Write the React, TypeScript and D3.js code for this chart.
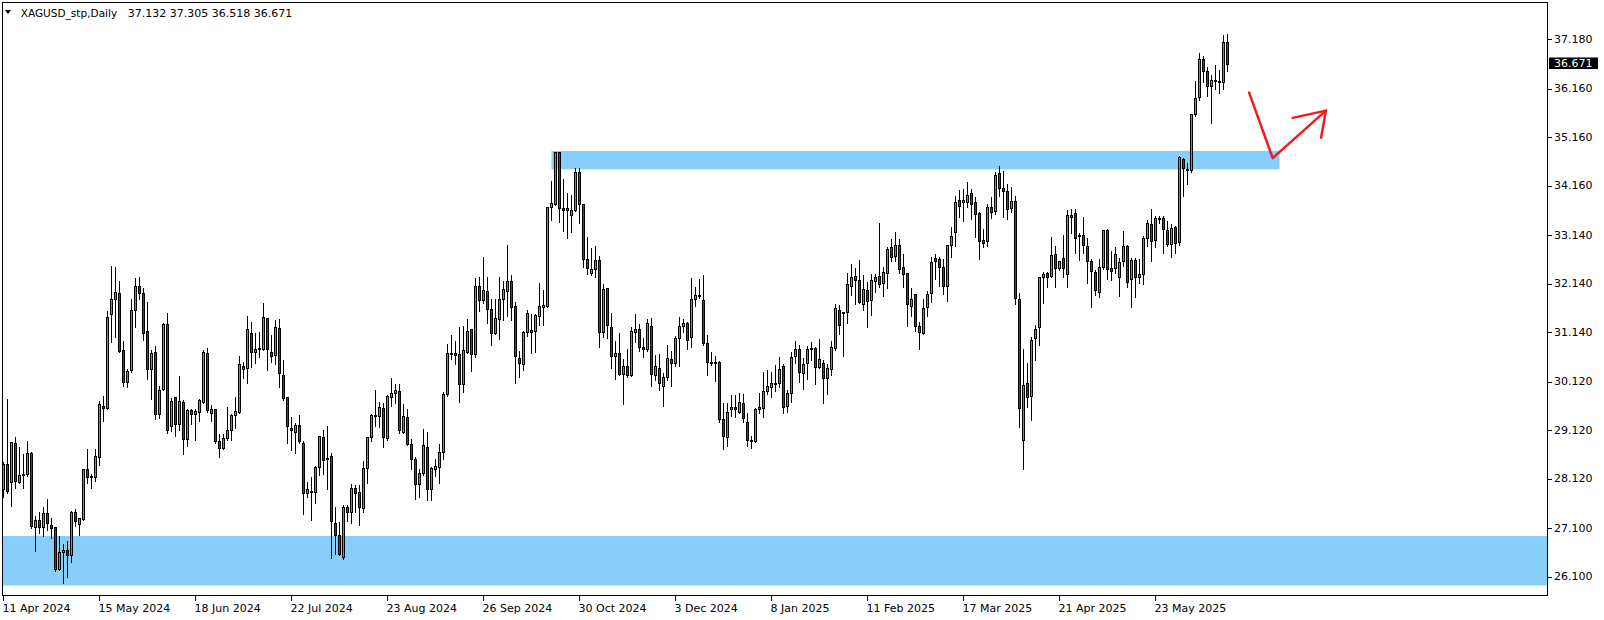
import * as d3 from "d3"

// XAGUSD daily bars, 11 Apr 2024 .. 18 Jun 2025
const symbolTitle = "XAGUSD_stp,Daily"
const headerValues = ["37.132", "37.305", "36.518", "36.671"]
const lastPrice = 36.671

const opens = [
  27.90, 28.42, 28.06, 28.85, 28.06, 28.21, 28.21, 28.65, 27.13, 27.27, 27.13, 27.41, 27.17, 27.12, 26.27, 26.62, 26.65, 26.54, 27.43, 27.18,
  27.30, 28.32, 28.16, 28.15, 28.57, 29.62, 29.58, 31.51, 31.82, 31.96, 30.78, 30.11, 30.36, 31.59, 32.09, 31.94, 31.17, 30.38, 30.73, 29.46,
  29.98, 31.31, 29.20, 29.81, 29.26, 29.70, 28.94, 29.54, 29.45, 29.50, 29.70, 30.71, 29.47, 29.55, 28.90, 28.75, 28.96, 29.13, 29.43, 29.50,
  30.44, 30.40, 31.12, 30.74, 30.79, 30.79, 31.43, 30.73, 30.67, 31.22, 30.26, 29.81, 29.16, 29.09, 29.22, 28.85, 27.82, 27.84, 27.84, 28.36,
  28.98, 28.55, 28.60, 27.20, 26.96, 26.50, 27.53, 27.43, 27.93, 27.84, 27.51, 28.34, 28.99, 29.42, 29.42, 29.57, 28.96, 29.80, 29.88, 29.94,
  29.08, 29.39, 28.83, 28.53, 28.02, 28.25, 28.78, 27.90, 28.32, 28.37, 28.67, 29.86, 30.69, 30.71, 30.69, 30.08, 30.73, 31.20, 30.69, 32.09,
  31.81, 32.00, 31.63, 31.13, 31.41, 31.82, 32.00, 32.19, 31.68, 30.62, 30.48, 31.14, 31.15, 31.17, 31.48, 31.67, 31.68, 33.72, 33.78, 34.85,
  33.70, 33.67, 33.55, 33.67, 34.44, 33.78, 32.66, 32.37, 32.44, 32.64, 31.15, 32.05, 31.24, 30.66, 30.71, 30.29, 30.44, 30.26, 31.15, 31.20,
  30.83, 30.79, 31.28, 30.27, 30.41, 30.04, 30.21, 30.60, 30.50, 31.02, 31.27, 31.33, 31.04, 31.82, 31.90, 31.80, 30.91, 30.53, 30.51, 30.52,
  29.35, 28.99, 29.55, 29.61, 29.50, 29.68, 29.30, 28.93, 28.89, 29.55, 29.57, 29.92, 30.02, 30.08, 30.09, 30.45, 29.62, 29.88, 30.66, 30.79,
  30.31, 30.50, 30.80, 30.82, 30.42, 30.50, 30.19, 30.39, 30.82, 31.61, 31.53, 31.55, 32.10, 32.30, 32.22, 31.72, 32.01, 31.81, 32.20, 32.31,
  32.16, 32.37, 32.89, 32.71, 32.93, 32.48, 32.36, 31.68, 31.92, 31.26, 31.13, 31.67, 31.96, 32.67, 32.65, 32.49, 32.10, 32.95, 33.21, 33.87,
  33.83, 33.83, 34.02, 33.82, 33.59, 33.04, 33.03, 33.73, 33.64, 34.42, 34.12, 34.06, 33.70, 33.85, 31.82, 28.91, 30.09, 29.83, 31.02, 31.24,
  32.29, 32.36, 32.31, 32.75, 32.46, 32.67, 32.34, 33.56, 33.59, 33.15, 33.15, 32.92, 32.61, 32.38, 31.98, 32.48, 33.25, 32.46, 32.46, 32.27,
  32.60, 32.92, 32.23, 32.64, 32.29, 32.34, 33.08, 33.37, 33.04, 33.47, 33.49, 33.25, 32.96, 33.32, 33.01, 34.71, 34.49, 34.49, 35.64, 36.00,
  36.77, 36.53, 36.22, 36.33, 36.31, 36.31, 37.132,
]

const highs = [
  28.49, 29.78, 28.89, 29.00, 28.80, 28.65, 28.93, 28.69, 27.37, 27.46, 27.56, 27.72, 27.34, 27.13, 26.96, 26.79, 26.86, 27.48, 27.51, 27.34,
  28.34, 28.75, 28.25, 28.75, 29.74, 29.84, 31.60, 32.53, 32.51, 32.22, 30.98, 30.40, 31.84, 32.29, 32.30, 32.08, 31.79, 30.79, 30.88, 30.05,
  31.36, 31.55, 29.81, 29.83, 30.26, 29.76, 29.57, 29.57, 29.57, 29.78, 30.80, 30.84, 29.66, 29.57, 29.07, 29.07, 29.62, 29.47, 29.83, 30.67,
  30.54, 31.50, 31.38, 31.15, 31.17, 31.77, 31.45, 31.10, 31.41, 31.44, 30.58, 29.81, 29.42, 29.30, 29.46, 28.92, 28.08, 28.18, 28.40, 29.02,
  29.14, 29.23, 28.68, 27.56, 27.26, 27.60, 27.61, 28.03, 28.01, 28.01, 28.51, 29.00, 29.48, 29.97, 29.73, 29.71, 29.87, 30.21, 30.10, 30.10,
  29.69, 29.58, 28.97, 28.58, 28.34, 29.16, 29.11, 28.38, 28.54, 28.85, 29.92, 30.91, 31.10, 30.98, 31.26, 31.29, 31.44, 31.22, 32.27, 32.30,
  32.71, 32.30, 31.84, 31.84, 32.30, 32.22, 32.96, 32.34, 31.78, 30.78, 31.19, 31.63, 31.54, 31.54, 32.18, 32.03, 33.74, 34.28, 34.88, 34.86,
  34.33, 34.04, 34.00, 34.55, 34.55, 33.80, 33.13, 32.89, 32.94, 32.73, 32.15, 32.08, 31.55, 30.98, 31.15, 30.62, 30.82, 31.26, 31.54, 31.34,
  31.05, 31.43, 31.46, 30.69, 30.71, 30.33, 30.90, 30.78, 31.09, 31.48, 31.43, 31.38, 32.29, 32.09, 32.25, 32.34, 31.10, 30.76, 30.67, 30.57,
  29.71, 29.71, 29.87, 29.87, 29.90, 29.88, 29.50, 29.02, 29.61, 29.90, 30.34, 30.38, 30.34, 30.48, 30.65, 30.50, 29.97, 30.76, 30.98, 30.89,
  30.64, 30.88, 30.96, 30.86, 31.03, 30.60, 30.50, 30.98, 31.75, 31.72, 31.58, 32.39, 32.56, 32.49, 32.65, 32.34, 32.20, 32.37, 32.36, 33.42,
  32.51, 32.91, 33.08, 33.23, 33.08, 32.77, 32.39, 32.08, 31.94, 31.37, 31.84, 32.01, 32.71, 32.78, 32.71, 32.67, 32.97, 33.33, 33.97, 34.09,
  34.11, 34.26, 34.11, 33.95, 33.64, 33.30, 33.81, 33.95, 34.47, 34.59, 34.49, 34.21, 34.16, 33.97, 31.98, 30.81, 30.52, 31.07, 31.31, 32.29,
  32.41, 32.41, 33.13, 32.94, 32.64, 33.17, 33.68, 33.70, 33.70, 33.21, 33.54, 33.11, 32.67, 32.44, 32.67, 33.26, 33.28, 32.84, 32.92, 32.69,
  33.25, 32.97, 32.69, 32.69, 32.67, 33.15, 33.47, 33.71, 33.56, 33.56, 33.56, 33.46, 33.39, 33.35, 34.80, 34.76, 34.66, 35.65, 36.35, 36.91,
  36.86, 36.62, 36.47, 36.67, 36.56, 37.29, 37.305,
]

const lows = [
  27.74, 27.83, 27.56, 27.94, 28.04, 27.94, 28.18, 27.10, 26.64, 27.00, 26.94, 27.07, 26.91, 26.21, 26.24, 25.98, 26.10, 26.41, 27.15, 26.96,
  27.27, 28.03, 27.94, 28.08, 28.40, 29.32, 29.55, 30.93, 31.05, 30.74, 30.04, 30.02, 30.33, 31.24, 31.82, 30.98, 30.18, 29.76, 29.35, 29.37,
  29.95, 29.07, 29.11, 29.01, 29.13, 28.64, 28.80, 29.26, 28.91, 29.32, 29.68, 29.50, 29.32, 28.85, 28.56, 28.74, 28.92, 28.93, 29.16, 29.47,
  30.19, 30.09, 30.42, 30.50, 30.64, 30.77, 30.36, 30.52, 30.48, 30.02, 29.74, 28.85, 28.71, 28.65, 28.86, 27.39, 27.75, 27.28, 27.62, 28.20,
  28.21, 27.92, 26.48, 26.58, 26.55, 26.46, 27.24, 27.20, 27.44, 27.16, 27.43, 28.03, 28.89, 29.20, 29.18, 28.77, 28.93, 29.63, 29.68, 29.06,
  29.06, 28.82, 28.32, 27.70, 27.75, 28.19, 27.68, 27.68, 28.18, 28.04, 28.52, 29.83, 30.58, 30.49, 29.70, 29.90, 30.71, 30.35, 30.64, 31.57,
  31.74, 31.34, 30.87, 31.10, 31.00, 31.39, 31.48, 31.39, 30.10, 30.21, 30.36, 31.06, 30.72, 30.74, 31.29, 31.29, 31.67, 33.46, 33.76, 33.42,
  33.23, 33.09, 33.21, 33.64, 33.40, 32.48, 32.34, 32.32, 32.29, 30.83, 31.04, 31.02, 30.40, 30.17, 30.26, 29.66, 30.21, 30.23, 30.95, 30.76,
  30.64, 30.76, 30.03, 30.16, 29.96, 29.63, 30.16, 30.03, 30.45, 30.45, 31.15, 30.80, 30.84, 31.69, 31.84, 30.88, 30.26, 30.47, 30.14, 29.30,
  28.73, 28.79, 29.41, 29.40, 29.48, 29.30, 28.80, 28.75, 28.87, 29.48, 29.39, 29.86, 29.80, 29.92, 30.02, 29.48, 29.50, 29.71, 30.51, 30.12,
  29.98, 30.18, 30.56, 30.08, 30.40, 29.69, 29.87, 30.26, 30.78, 31.11, 30.65, 31.34, 31.91, 31.72, 31.74, 31.61, 31.24, 31.50, 31.98, 32.08,
  31.89, 32.06, 32.61, 32.62, 32.37, 32.08, 31.27, 31.48, 31.17, 30.80, 31.10, 31.48, 31.77, 32.24, 32.09, 31.93, 31.79, 32.70, 32.92, 33.52,
  33.44, 33.73, 33.47, 33.10, 32.66, 32.89, 32.91, 33.50, 33.58, 33.94, 33.51, 33.47, 33.61, 31.72, 29.18, 28.32, 29.61, 29.33, 30.56, 30.88,
  31.74, 32.08, 32.29, 32.08, 32.43, 32.29, 32.08, 33.18, 32.78, 32.64, 32.78, 32.16, 31.67, 31.91, 31.87, 32.44, 32.23, 32.22, 32.37, 31.88,
  32.51, 32.08, 31.66, 31.86, 32.15, 32.14, 32.92, 32.60, 32.89, 33.39, 32.77, 32.91, 32.69, 32.77, 32.95, 33.96, 34.19, 34.44, 35.60, 35.93,
  36.31, 36.01, 35.46, 36.15, 36.08, 36.15, 36.518,
]

const closes = [
  28.42, 27.86, 28.87, 28.08, 28.19, 28.19, 28.65, 27.15, 27.28, 27.13, 27.41, 27.20, 27.11, 26.27, 26.62, 26.65, 26.54, 27.43, 27.24, 27.31,
  28.32, 28.15, 28.18, 28.60, 29.66, 29.57, 31.45, 31.82, 31.98, 30.76, 30.11, 30.34, 31.61, 32.09, 31.94, 31.13, 30.38, 30.71, 29.46, 29.96,
  31.31, 29.13, 29.72, 29.26, 29.72, 28.95, 29.54, 29.45, 29.51, 29.74, 30.73, 29.53, 29.55, 28.89, 28.75, 28.96, 29.12, 29.44, 29.51, 30.48,
  30.38, 31.20, 30.74, 30.80, 30.81, 31.45, 30.79, 30.66, 31.24, 30.30, 29.79, 29.20, 29.12, 29.22, 28.89, 27.82, 27.90, 27.86, 28.37, 29.00,
  28.51, 28.52, 27.24, 26.96, 26.58, 27.53, 27.44, 27.94, 27.82, 27.53, 28.34, 28.98, 29.44, 29.44, 29.59, 28.98, 29.83, 29.88, 29.96, 29.12,
  29.42, 28.83, 28.52, 28.02, 28.25, 28.82, 27.92, 28.34, 28.39, 28.67, 29.86, 30.71, 30.71, 30.67, 30.07, 30.77, 31.17, 30.69, 32.09, 31.80,
  32.01, 31.63, 31.13, 31.43, 31.82, 32.03, 32.19, 31.67, 30.66, 30.50, 31.14, 31.53, 31.19, 31.50, 31.68, 31.70, 33.72, 33.80, 34.85, 33.70,
  33.67, 33.70, 33.67, 34.45, 33.78, 32.66, 32.46, 32.45, 32.64, 31.15, 32.03, 31.29, 30.66, 30.71, 30.29, 30.44, 30.25, 31.17, 31.20, 30.84,
  30.79, 31.33, 30.29, 30.44, 30.09, 30.21, 30.62, 30.50, 31.02, 31.28, 31.33, 30.98, 31.82, 31.91, 31.91, 30.91, 30.53, 30.51, 30.53, 29.35,
  29.01, 29.50, 29.61, 29.55, 29.71, 29.37, 28.93, 28.89, 29.55, 29.59, 29.93, 30.03, 30.09, 30.09, 30.38, 29.59, 29.88, 30.63, 30.79, 30.33,
  30.48, 30.79, 30.82, 30.43, 30.60, 30.19, 30.40, 30.83, 31.64, 31.30, 31.55, 32.13, 32.29, 32.22, 31.77, 32.03, 31.79, 32.22, 32.29, 32.13,
  32.38, 32.85, 32.69, 32.93, 32.44, 32.34, 31.72, 31.82, 31.26, 31.14, 31.65, 31.92, 32.58, 32.62, 32.49, 32.10, 32.93, 33.12, 33.83, 33.74,
  33.86, 33.98, 33.78, 33.57, 33.03, 32.99, 33.72, 33.61, 34.38, 34.11, 34.06, 33.68, 33.85, 31.84, 29.57, 30.05, 29.80, 30.98, 31.20, 32.27,
  32.34, 32.29, 32.74, 32.46, 32.61, 32.46, 33.56, 33.52, 33.08, 33.13, 32.93, 32.60, 32.40, 32.01, 32.48, 33.24, 32.44, 32.40, 32.75, 32.58,
  32.92, 32.18, 32.63, 32.27, 32.34, 33.08, 33.39, 33.03, 33.49, 33.49, 33.26, 32.97, 33.30, 32.99, 34.75, 34.52, 34.51, 35.63, 35.98, 36.77,
  36.53, 36.22, 36.35, 36.35, 36.33, 37.13, 36.671,
]

// one date label every 24 bars, starting with the first bar
const dateLabels = [
  "11 Apr 2024", "15 May 2024", "18 Jun 2024", "22 Jul 2024", "23 Aug 2024", "26 Sep 2024", "30 Oct 2024",
  "3 Dec 2024", "8 Jan 2025", "11 Feb 2025", "17 Mar 2025", "21 Apr 2025", "23 May 2025",
]
const dateLabelEvery = 24

const priceTicks = [37.18, 36.16, 35.16, 34.16, 33.14, 32.14, 31.14, 30.12, 29.12, 28.12, 27.1, 26.1]

// supply / demand zones drawn by hand on the chart
const upperZone = { fromBar: 137, toBar: 319, top: 34.88, bottom: 34.5 }
const lowerZone = { top: 26.94, bottom: 25.92 }

// red hand drawn arrow, [bar, price]
const arrowStroke: [number, number][] = [[311.4, 36.08], [317.3, 34.73], [330.6, 35.71]]
const arrowHead: [number, number][] = [[322.3, 35.56], [330.6, 35.71], [329.4, 35.15]]

export default function App() {
  const width = 1604
  const height = 620
  const frame = { left: 2.5, top: 2.5, right: 1547.5, bottom: 595.5 }

  const x = d3.scaleLinear().domain([0, 386]).range([3.5, 1547.5])
  const y = d3.scaleLinear().domain([26.1, 37.18]).range([576.8, 39.3])

  const bars = d3.range(opens.length).map((i) => ({ i, o: opens[i], h: highs[i], l: lows[i], c: closes[i] }))
  const snap = (v: number) => Math.round(v) + 0.5
  const font = "'DejaVu Sans', Verdana, sans-serif"
  const fmt = d3.format(".3f")

  const arrowLine = d3
    .line<[number, number]>()
    .x((d) => x(d[0]))
    .y((d) => y(d[1]))

  return (
    <div style={{ width, height, background: "#fff" }}>
      <style>{"body{margin:0}"}</style>
      <svg width={width} height={height} style={{ display: "block" }} fontFamily={font}>
        <rect x={0} y={0} width={width} height={height} fill="#fff" />

        {/* zones */}
        <rect
          x={frame.left}
          y={y(lowerZone.top)}
          width={frame.right - frame.left}
          height={y(lowerZone.bottom) - y(lowerZone.top)}
          fill="#87cefa"
        />
        <rect
          x={x(upperZone.fromBar)}
          y={y(upperZone.top)}
          width={x(upperZone.toBar) - x(upperZone.fromBar)}
          height={y(upperZone.bottom) - y(upperZone.top)}
          fill="#87cefa"
        />

        {/* candles */}
        <g shapeRendering="crispEdges">
          {bars.map((d) => {
            const cx = x(d.i)
            const top = snap(y(Math.max(d.o, d.c)))
            const bottom = snap(y(Math.min(d.o, d.c)))
            const up = d.c >= d.o
            return (
              <g key={d.i}>
                <line x1={cx} x2={cx} y1={snap(y(d.h))} y2={snap(y(d.l))} stroke="#000" strokeWidth={1} />
                <rect
                  x={cx - 1}
                  y={top}
                  width={2}
                  height={Math.max(bottom - top, 1)}
                  fill={up ? "#00e600" : "#ee0000"}
                  stroke="#000"
                  strokeWidth={1}
                />
              </g>
            )
          })}
        </g>

        {/* frame */}
        <rect
          x={frame.left}
          y={frame.top}
          width={frame.right - frame.left}
          height={frame.bottom - frame.top}
          fill="none"
          stroke="#000"
          strokeWidth={1}
          shapeRendering="crispEdges"
        />

        {/* price axis */}
        <g fontSize={11}>
          {priceTicks.map((t) => (
            <g key={t}>
              <line x1={frame.right} x2={frame.right + 4} y1={snap(y(t))} y2={snap(y(t))} stroke="#000" shapeRendering="crispEdges" />
              <text x={1554} y={y(t)} dominantBaseline="central" fill="#000">
                {fmt(t)}
              </text>
            </g>
          ))}
          <rect x={1549} y={y(lastPrice) - 6.5} width={49} height={11.5} fill="#000" />
          <text x={1554} y={y(lastPrice) - 0.8} dominantBaseline="central" fill="#fff">
            {fmt(lastPrice)}
          </text>
        </g>

        {/* time axis */}
        <g fontSize={11}>
          {dateLabels.map((label, k) => {
            const tx = x(k * dateLabelEvery)
            return (
              <g key={label}>
                <line x1={tx} x2={tx} y1={frame.bottom} y2={frame.bottom + 5} stroke="#000" shapeRendering="crispEdges" />
                <text x={tx - 1} y={611.5} fill="#000">
                  {label}
                </text>
              </g>
            )
          })}
        </g>

        {/* header */}
        <path d="M5,10 L11,10 L8,14 Z" fill="#000" />
        <text x={20.7} y={17.3} fontSize={11} fill="#000" textLength={96.5} lengthAdjust="spacingAndGlyphs">
          {symbolTitle}
        </text>
        <text x={127.7} y={17.3} fontSize={11} fill="#000" style={{ whiteSpace: "pre" }}>
          {headerValues.join(" ")}
        </text>

        {/* hand drawn arrow */}
        <path d={arrowLine(arrowStroke) ?? ""} fill="none" stroke="#ec1c24" strokeWidth={2.5} strokeLinejoin="round" strokeLinecap="round" />
        <path d={arrowLine(arrowHead) ?? ""} fill="none" stroke="#ec1c24" strokeWidth={2.5} strokeLinejoin="round" strokeLinecap="round" />
      </svg>
    </div>
  )
}
